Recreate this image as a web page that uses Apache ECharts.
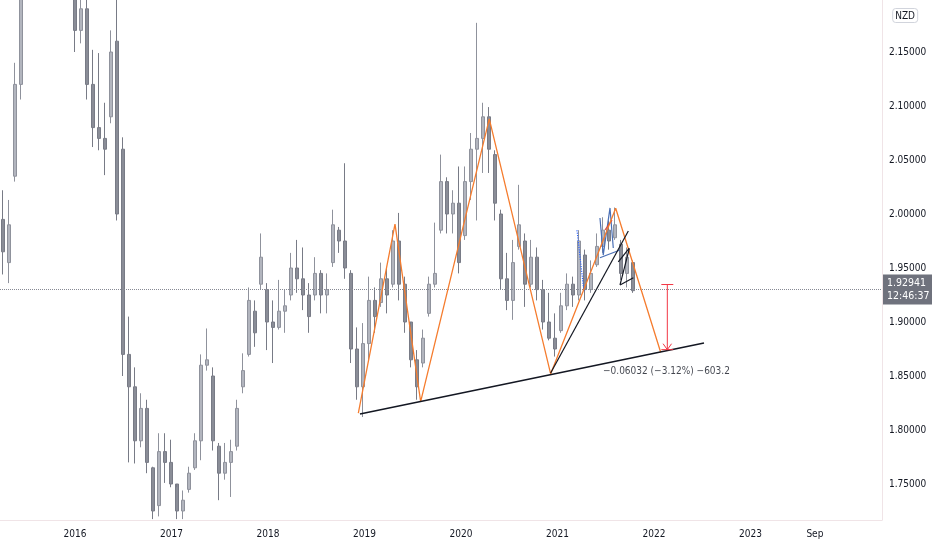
<!DOCTYPE html>
<html><head><meta charset="utf-8">
<script src="https://cdn.jsdelivr.net/npm/echarts@6/dist/echarts.min.js"></script>
<style>html,body{margin:0;padding:0;background:#fff}#c{width:932px;height:550px}</style>
</head><body><div id="c"></div><script>
// time in decimal years, prices GBP/NZD
const barStart = 2015.254, barStep = 0.06218;
const opens  = [1.995,1.955,2.035,2.120,2.22,2.28,2.34,2.40,2.38,2.34,2.30,2.27,2.21,2.17,2.19,2.12,2.08,2.07,2.09,2.16,
 2.06,1.87,1.84,1.79,1.82,1.765,1.73,1.78,1.77,1.75,1.725,1.745,1.765,1.79,1.86,1.85,1.785,1.76,1.77,1.785,
 1.84,1.87,1.91,1.935,1.93,1.90,1.895,1.91,1.925,1.95,1.94,1.925,1.925,1.945,1.925,1.955,1.985,1.975,1.945,1.875,
 1.84,1.88,1.92,1.918,1.94,1.935,1.975,1.935,1.90,1.865,1.862,1.908,1.935,1.985,2.03,2.00,2.01,1.98,2.03,2.06,
 2.07,2.09,2.055,2.00,1.94,1.92,1.97,1.975,1.935,1.96,1.93,1.90,1.885,1.892,1.915,1.935,1.925,1.962,1.93,1.953,
 1.97,1.985,1.978,1.972,1.945,1.955];
const closes = [1.965,1.990,2.120,2.220,2.28,2.34,2.40,2.38,2.34,2.30,2.27,2.22,2.17,2.19,2.12,2.08,2.07,2.06,2.15,2.00,
 1.87,1.84,1.79,1.82,1.77,1.725,1.78,1.77,1.75,1.725,1.735,1.76,1.79,1.86,1.865,1.79,1.76,1.77,1.78,1.82,
 1.855,1.92,1.89,1.96,1.90,1.895,1.91,1.915,1.95,1.94,1.925,1.905,1.945,1.925,1.93,1.99,1.975,1.95,1.875,1.84,
 1.88,1.92,1.905,1.94,1.925,1.975,1.935,1.90,1.865,1.84,1.885,1.935,1.945,2.03,2.00,2.01,1.955,2.03,2.06,2.07,
 2.09,2.06,2.01,1.94,1.92,1.955,1.99,1.935,1.96,1.93,1.90,1.885,1.875,1.915,1.935,1.925,1.975,1.93,1.945,1.97,
 1.985,1.975,1.99,1.945,1.96,1.929];
const lows   = [1.944,1.936,2.030,2.106,2.20,2.26,2.32,2.35,2.32,2.27,2.24,2.20,2.150,2.158,2.106,2.062,2.059,2.036,2.084,1.994,
 1.850,1.770,1.769,1.784,1.760,1.7175,1.720,1.751,1.747,1.7175,1.7175,1.742,1.763,1.772,1.855,1.781,1.735,1.754,1.738,1.781,
 1.834,1.868,1.877,1.930,1.874,1.862,1.893,1.890,1.920,1.927,1.911,1.890,1.920,1.908,1.908,1.951,1.964,1.940,1.862,1.828,
 1.812,1.865,1.890,1.914,1.908,1.932,1.920,1.890,1.858,1.828,1.858,1.905,1.932,1.982,1.982,1.982,1.945,1.976,2.013,1.994,
 2.038,2.038,1.994,1.930,1.911,1.902,1.967,1.914,1.932,1.920,1.893,1.883,1.868,1.890,1.911,1.914,1.920,1.920,1.927,1.951,
 1.964,1.967,1.976,1.939,1.932,1.927];
const highs  = [2.022,2.013,2.140,2.250,2.30,2.36,2.42,2.45,2.41,2.37,2.33,2.29,2.23,2.22,2.21,2.152,2.149,2.103,2.170,2.200,
 2.071,1.905,1.858,1.834,1.828,1.766,1.797,1.797,1.791,1.747,1.744,1.766,1.797,1.870,1.894,1.858,1.788,1.788,1.791,1.828,
 1.871,1.932,1.920,1.982,1.936,1.920,1.939,1.930,1.964,1.976,1.969,1.936,1.960,1.948,1.945,2.004,1.988,2.047,1.948,1.895,
 1.899,1.942,1.932,1.955,1.951,1.985,2.001,1.942,1.895,1.874,1.893,1.942,1.992,2.055,2.034,2.022,2.044,2.044,2.075,2.177,
 2.103,2.099,2.059,2.004,1.964,1.976,2.027,1.982,1.976,1.969,1.939,1.927,1.908,1.927,1.945,1.942,1.985,1.967,1.957,1.982,
 1.997,1.994,2.006,1.976,1.969,1.957];

const yearTicks = [2016,2017,2018,2019,2020,2021,2022,2023];
const sepTick = 2023.667;
const priceTicks = [1.75,1.80,1.85,1.90,1.95,2.00,2.05,2.10,2.15];
const lastPrice = 1.92941, lastTime = '12:46:37';
const measureText = '\u22120.06032 (\u22123.12%) \u2212603.2';

// drawings
const zigzag = [[2018.936,1.8157],[2019.316,1.9907],[2019.582,1.8262],[2020.293,2.088],[2020.929,1.8519],[2021.603,2.0053],[2022.069,1.872]];
const supportLine = [[2018.953,1.8148],[2022.518,1.8806]];
const riseLine = [[2020.929,1.8528],[2021.734,1.9843]];
const flagA = [[2021.630,1.9556],[2021.744,1.9685]];
const flagB = [[2021.648,1.9343],[2021.744,1.9680]];
const flagC = [[2021.648,1.9343],[2021.786,1.9410]];
const blueDotted = [[2021.202,1.985],[2021.275,1.9278]];
const blueZig = [[2021.440,1.9963],[2021.474,1.962],[2021.544,2.0056],[2021.578,1.9685]];
const blueFlat = [[2021.440,1.9595],[2021.648,1.9667]];
const redSmall = [[2021.492,1.9852],[2021.565,1.9944]];
const measureX = 2022.138, measureTop = 1.9347, measureBottom = 1.8744;
const capHalf = 0.062, arrowHalf = 0.044, arrowLen = 0.0055;
const measureLabelAt = [2022.129, 1.8546];

const candles = opens.map((o,i)=>[barStart+i*barStep, o, closes[i], lows[i], highs[i]]);
const font = '"DejaVu Sans Condensed","Roboto Condensed",sans-serif';

function line(pts, color, width, type){
  return {type:'line', data:pts, showSymbol:false, silent:true, z:5,
    lineStyle:{color:color, width:width, type:type||'solid'}};
}
const red = '#f23645';
const series = [
  {type:'candlestick', data:candles, encode:{x:0,y:[1,2,3,4]}, barWidth:3, clip:true, silent:true,
   itemStyle:{color:'#b2b5be', color0:'#8a8d97', borderColor:'#8f929c', borderColor0:'#787b86', borderWidth:1},
   markLine:{symbol:'none', silent:true, data:[{yAxis:lastPrice}],
     lineStyle:{type:'dotted', color:'#868993', width:1},
     label:{position:'end', distance:1, formatter:lastPrice.toFixed(5)+'\n'+lastTime, backgroundColor:'#6f727d',
       color:'#fff', padding:[2,4,2,4], fontSize:10.5, lineHeight:13, fontFamily:font}}},
  line(blueDotted,'#2962ff',1.2,'dotted'),
  line(blueZig,'#4a6fb5',1.2),
  line(blueFlat,'#4a6fb5',1.2),
  line(redSmall,'#e0473a',1.2),
  line(zigzag,'#f57c2e',1.3),
  line(supportLine,'#131722',1.5),
  line(riseLine,'#131722',1.2),
  line(flagA,'#131722',1.2),
  line(flagB,'#131722',1.2),
  line(flagC,'#131722',1.2),
  line([[measureX,measureTop],[measureX,measureBottom]],red,1),
  line([[measureX-capHalf,measureTop],[measureX+capHalf,measureTop]],red,1),
  line([[measureX-capHalf,measureBottom],[measureX+capHalf,measureBottom]],red,1),
  line([[measureX-arrowHalf,measureBottom+arrowLen],[measureX,measureBottom],[measureX+arrowHalf,measureBottom+arrowLen]],red,1),
  {type:'scatter', data:[measureLabelAt], symbolSize:0, silent:true, z:6,
   label:{show:true, position:'inside', formatter:measureText, color:'#131722', fontSize:10, fontFamily:font}}
];

const tMin = 2016 - 75/96.5, tMax = 2016 + 807/96.5;
const chart = echarts.init(document.getElementById('c'), null, {renderer:'canvas'});
chart.setOption({
  animation:false,
  backgroundColor:'#ffffff',
  title:{text:'NZD', right:14, top:8, padding:[3,3,2,3], borderColor:'#d1d4dc', borderWidth:1, borderRadius:3,
    textStyle:{fontSize:10, color:'#131722', fontWeight:'normal', fontFamily:font}},
  grid:{left:0, right:50, top:0, bottom:30},
  xAxis:{type:'value', min:tMin, max:tMax, splitLine:{show:false},
    axisLine:{show:true, lineStyle:{color:'#f0e4e7'}}, axisTick:{show:false},
    axisLabel:{customValues:yearTicks.concat([sepTick]), margin:9, color:'#131722', fontSize:10, fontFamily:font,
      formatter:v=>Math.abs(v-sepTick)<0.01?'Sep':String(Math.round(v))}},
  yAxis:{type:'value', position:'right', min:2-306/1080, max:2+214/1080, splitLine:{show:false},
    axisLine:{show:true, lineStyle:{color:'#f0e4e7'}}, axisTick:{show:false},
    axisLabel:{customValues:priceTicks, margin:7, color:'#131722', fontSize:10, fontFamily:font,
      formatter:v=>v.toFixed(5)}},
  series:series
});
</script></body></html>
